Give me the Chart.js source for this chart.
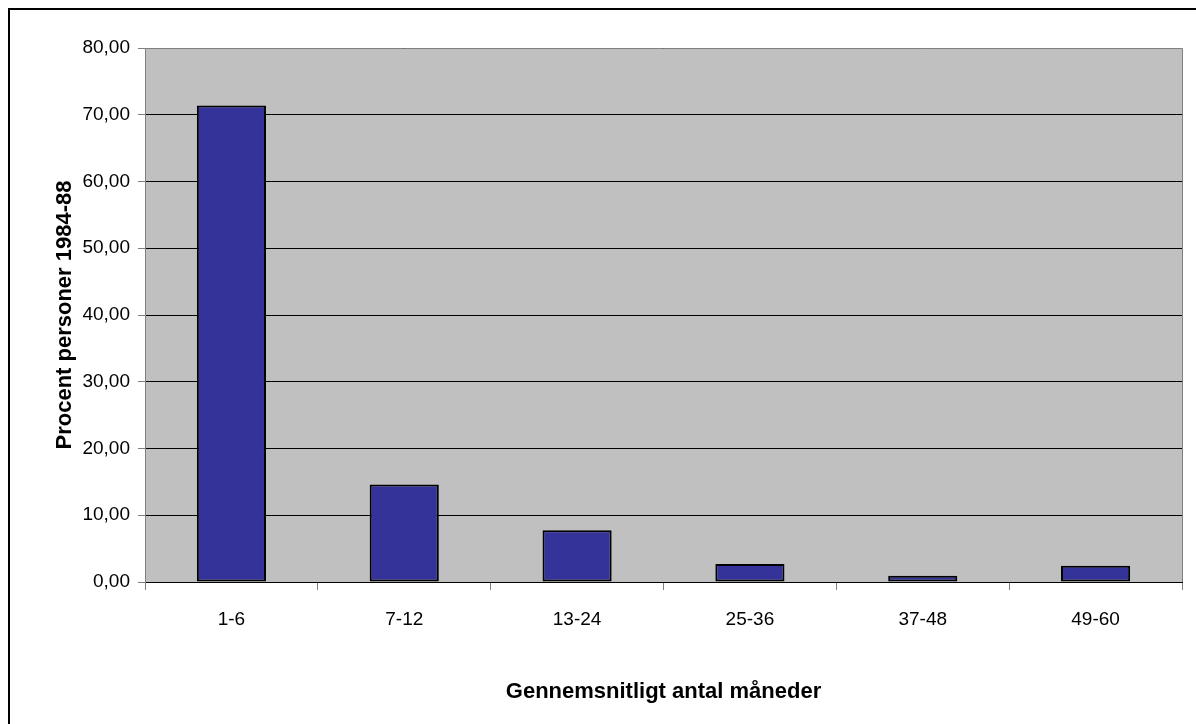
<!DOCTYPE html>
<html>
<head>
<meta charset="utf-8">
<script src="https://cdn.jsdelivr.net/npm/chart.js@4.4.0/dist/chart.umd.min.js"></script>
<style>
  body { margin: 0; background: #fff; }
  #wrap { width: 1196px; height: 724px; }
</style>
</head>
<body>
<div id="wrap"><canvas id="bars" width="1196" height="724"></canvas></div>
<script>
// data
const categories = ['1-6', '7-12', '13-24', '25-36', '37-48', '49-60'];
const percentValues = [71.4, 14.6, 7.75, 2.7, 0.95, 2.45];
const yTicks = [0, 10, 20, 30, 40, 50, 60, 70, 80];

const xTitle = 'Gennemsnitligt antal måneder';
const yTitle = 'Procent personer 1984-88';

Chart.defaults.font.family = "'Liberation Sans', Arial, sans-serif";
Chart.defaults.font.size = 19;
Chart.defaults.color = '#000';

// grey plot area + frame round the whole chart
const excelLook = {
  id: 'excelLook',
  beforeDraw(chart) {
    const ctx = chart.ctx;
    const a = chart.chartArea;
    ctx.save();
    ctx.fillStyle = '#fff';
    ctx.fillRect(0, 0, chart.width, chart.height);
    ctx.fillStyle = '#c0c0c0';
    ctx.fillRect(a.left, a.top, a.right - a.left, a.bottom - a.top);
    ctx.restore();
  },
  afterDraw(chart) {
    const ctx = chart.ctx;
    const a = chart.chartArea;
    ctx.save();
    ctx.strokeStyle = '#808080';
    ctx.lineWidth = 1;
    ctx.beginPath();
    ctx.moveTo(a.left, a.top + 0.5);
    ctx.lineTo(a.right + 0.5, a.top + 0.5);
    ctx.lineTo(a.right + 0.5, a.bottom);
    ctx.stroke();
    // outer frame
    ctx.strokeStyle = '#000';
    ctx.lineWidth = 2;
    ctx.beginPath();
    ctx.moveTo(9, chart.height);
    ctx.lineTo(9, 9);
    ctx.lineTo(chart.width, 9);
    ctx.stroke();
    ctx.restore();
  }
};

const chart = new Chart(document.getElementById('bars').getContext('2d'), {
  type: 'bar',
  data: {
    labels: categories,
    datasets: [{
      data: percentValues,
      backgroundColor: '#333399',
      borderColor: '#000',
      borderWidth: 2,
      borderSkipped: false,
      categoryPercentage: 1,
      barPercentage: 0.4
    }]
  },
  options: {
    responsive: false,
    animation: false,
    layout: { padding: { top: 48, right: 14, left: 0, bottom: 0 } },
    plugins: {
      legend: { display: false },
      tooltip: { enabled: false }
    },
    scales: {
      x: {
        afterFit: function(scale) { scale.height = 142; },
        grid: {
          offset: true,
          drawOnChartArea: false,
          tickColor: '#808080',
          tickLength: 8
        },
        border: { color: '#000', width: 1 },
        ticks: { padding: 18, maxRotation: 0 },
        title: {
          display: true,
          text: xTitle,
          font: { weight: 'bold', size: 22 },
          padding: { top: 0, bottom: 19 }
        }
      },
      y: {
        min: 0,
        max: 80,
        afterFit: function(scale) { scale.width = 145; },
        afterBuildTicks: function(scale) {
          scale.ticks = yTicks.map(v => ({ value: v }));
        },
        grid: {
          color: '#000',
          tickColor: '#808080',
          tickLength: 7
        },
        border: { color: '#808080', width: 1 },
        ticks: {
          padding: 8,
          callback: v => Number(v).toFixed(2).replace('.', ',')
        },
        title: {
          display: true,
          text: yTitle,
          font: { weight: 'bold', size: 22 },
          padding: { top: 52, bottom: 0 }
        }
      }
    }
  },
  plugins: [excelLook]
});
</script>
</body>
</html>
